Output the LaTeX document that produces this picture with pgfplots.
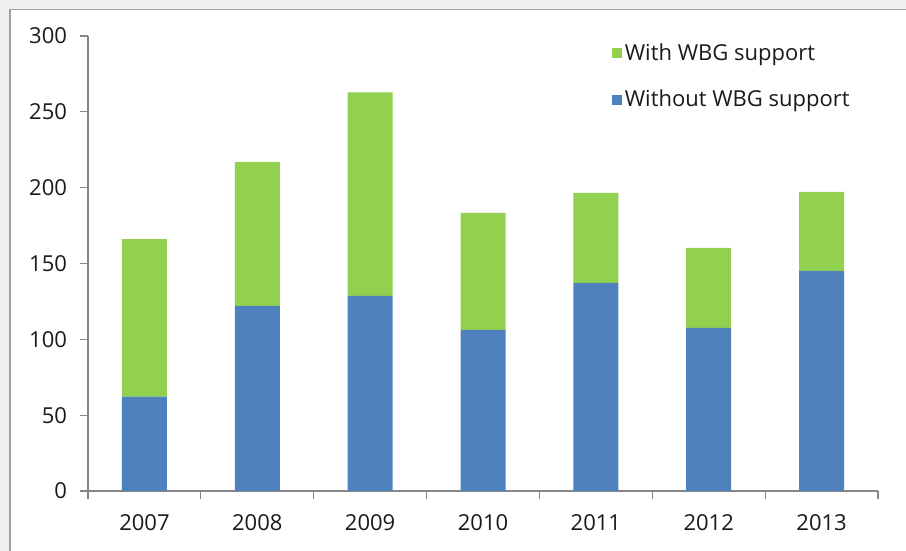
\documentclass[border=0pt]{standalone}
\usepackage{pgfplots}
\pgfplotsset{compat=1.18}
\usepackage{fontspec}
\setmainfont{Open Sans}
\definecolor{bgout}{HTML}{F0F0F0}
\definecolor{frame}{HTML}{A0A0A0}
\definecolor{axgray}{HTML}{868686}
\definecolor{wbggreen}{HTML}{92D050}
\definecolor{wbgblue}{HTML}{4F81BD}
\definecolor{txt}{HTML}{1A1A1A}
\begin{document}
\begin{tikzpicture}
\useasboundingbox (-44pt,-30pt) rectangle (409pt,245.5pt);
\fill[bgout] (-44pt,-30pt) rectangle (409pt,245.5pt);
\fill[white] (-39pt,-31pt) rectangle (410pt,240.75pt);
\draw[frame,line width=0.8pt] (-39pt,-31pt) -- (-39pt,240.75pt) -- (410pt,240.75pt);
\begin{axis}[
  scale only axis,
  width=395pt, height=227.5pt,
  ybar stacked,
  bar width=22.5pt,
  xmin=-0.5, xmax=6.5,
  ymin=0, ymax=300,
  ytick={0,50,...,300},
  xtick={0,1,2,3,4,5,6},
  xticklabels={2007,2008,2009,2010,2011,2012,2013},
  minor xtick={-0.5,0.5,1.5,2.5,3.5,4.5,5.5,6.5},
  axis x line=bottom, axis y line=left,
  axis line style={-, axgray, line width=0.6pt},
  tick style={axgray, line width=0.6pt},
  major x tick style={draw=none},
  tick align=outside,
  major tick length=4pt, minor tick length=4pt,
  /pgf/number format/assume math mode=true,
  ticklabel style={font=\fontsize{11}{13}\selectfont, text=txt},
  yticklabel style={xshift=-3pt},
  xticklabel style={yshift=-4pt},
  legend style={draw=none, fill=none, at={(0.655,1.0)}, anchor=north west,
    font=\fontsize{11}{13}\selectfont, text=txt, row sep=10.5pt,
    nodes={inner sep=1.5pt}},
  legend cell align=left,
  reverse legend,
  legend image code/.code={\fill[#1] (0pt,-2.5pt) rectangle (5pt,2.5pt);},
]
\addplot[fill=wbgblue, draw=none] coordinates {(0,62.2) (1,122) (2,128.7) (3,106.2) (4,137.2) (5,107.5) (6,145.1)};
\addplot[fill=wbggreen, draw=none] coordinates {(0,103.9) (1,95) (2,134.1) (3,77.2) (4,59.4) (5,52.8) (6,52.2)};
\legend{Without WBG support, With WBG support}
\end{axis}
\end{tikzpicture}
\end{document}
